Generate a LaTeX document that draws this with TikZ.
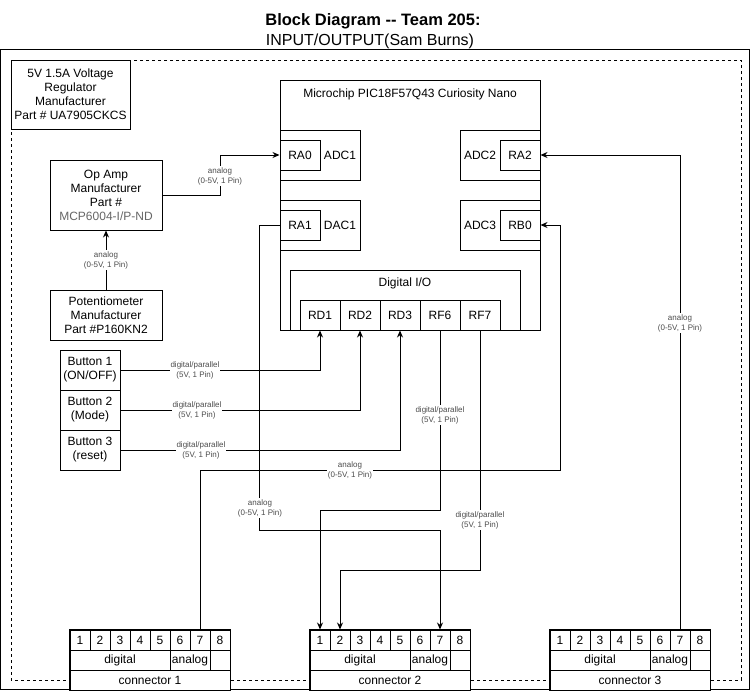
\documentclass[tikz,border=0pt]{standalone}
\usepackage{fontspec}
\setmainfont{Liberation Sans}
\usetikzlibrary{arrows.meta}
\newcommand{\makeconnector}[3]{%
  \foreach \i in {1,...,8} {
    \node[cell, minimum width=20, minimum height=20] (#1p\i) at ({#2+20*\i-10},640) {\i};
  }
  \node[cell, minimum width=100, minimum height=20] (#1dig) at ({#2+50},660) {digital};
  \node[cell, minimum width=40, minimum height=20] (#1ana) at ({#2+120},660) {analog};
  \node[cell, minimum width=160, minimum height=20] (#1lbl) at ({#2+80},680) {#3};
  \draw[line width=1pt] (#1p1.north west) rectangle (#1lbl.south east);
}
\begin{document}
\begin{tikzpicture}[x=1pt,y=-1pt,
  every node/.style={font=\fontsize{12}{14}\selectfont},
  box/.style={draw, line width=1pt, fill=white, inner sep=0pt, align=center},
  cell/.style={draw, line width=1pt, fill=white, inner sep=0pt},
  txt/.style={inner sep=0pt, align=center},
  arr/.style={line width=1pt, -{Stealth[length=7pt,width=6pt]}},
  wire/.style={line width=1pt},
  elbl/.style={fill=white, inner sep=1pt, align=center, text=black!70, font=\fontsize{8}{10}\selectfont}
]
\useasboundingbox (0,0) rectangle (752,691);
% title
\node[txt, font=\bfseries\fontsize{16.5}{19}\selectfont] (title) at (373,21) {Block Diagram {-}{-} Team 205:};
\node[txt, font=\fontsize{16}{19}\selectfont] (subtitle) at (370,41) {INPUT/OUTPUT(Sam Burns)};
% frames
\draw[line width=1pt] (0.5,49.5) rectangle (749.5,689.5);
\draw[line width=1pt, dash pattern=on 3pt off 3pt] (11,60) rectangle (741,680);
% regulator
\node[box, minimum width=119, minimum height=69] (reg) at (70.5,94.5)
  {5V 1.5A Voltage\\Regulator\\Manufacturer\\Part \# UA7905CKCS};
% microcontroller
\node[box, minimum width=260, minimum height=250] (mcu) at (410,205) {};
\node[txt] (mculbl) at (410,94) {Microchip PIC18F57Q43 Curiosity Nano};
\node[box, minimum width=80, minimum height=50] (adc1grp) at (320,155) {};
\node[box, minimum width=40, minimum height=30] (ra0) at (300,155) {RA0};
\node[txt] (adc1) at (340,155) {ADC1};
\node[box, minimum width=80, minimum height=50] (dac1grp) at (320,225) {};
\node[box, minimum width=40, minimum height=30] (ra1) at (300,225) {RA1};
\node[txt] (dac1) at (340,225) {DAC1};
\node[box, minimum width=80, minimum height=50] (adc2grp) at (500,155) {};
\node[box, minimum width=40, minimum height=30] (ra2) at (520,155) {RA2};
\node[txt] (adc2) at (480,155) {ADC2};
\node[box, minimum width=80, minimum height=50] (adc3grp) at (500,225) {};
\node[box, minimum width=40, minimum height=30] (rb0) at (520,225) {RB0};
\node[txt] (adc3) at (480,225) {ADC3};
\node[box, minimum width=230, minimum height=60] (dio) at (405,300) {};
\node[txt] (diolbl) at (405,283) {Digital I/O};
\node[box, minimum width=40, minimum height=30] (rd1) at (320,315) {RD1};
\node[box, minimum width=40, minimum height=30] (rd2) at (360,315) {RD2};
\node[box, minimum width=40, minimum height=30] (rd3) at (400,315) {RD3};
\node[box, minimum width=40, minimum height=30] (rf6) at (440,315) {RF6};
\node[box, minimum width=40, minimum height=30] (rf7) at (480,315) {RF7};
% left blocks
\node[box, minimum width=112, minimum height=70] (opamp) at (106,195)
  {Op Amp\\Manufacturer\\Part \#\\\textcolor{black!60}{MCP6004-I/P-ND}};
\node[box, minimum width=112, minimum height=50] (pot) at (106,315)
  {Potentiometer\\Manufacturer\\Part \#P160KN2};
\node[box, minimum width=60, minimum height=40] (b1) at (90,370) {Button 1\\(ON/OFF)};
\node[box, minimum width=60, minimum height=40] (b2) at (90,410) {Button 2\\(Mode)};
\node[box, minimum width=60, minimum height=40] (b3) at (90,450) {Button 3\\(reset)};
% connectors
\makeconnector{c1}{70}{connector 1}
\makeconnector{c2}{310}{connector 2}
\makeconnector{c3}{550}{connector 3}
% connections
\draw[arr] (opamp.east) -- ++(58,0) |- (ra0.west);
\node[elbl] (l1) at (220,176) {analog\\(0-5V, 1 Pin)};
\draw[arr] (pot.north) -- (opamp.south);
\node[elbl] (l2) at (106,260) {analog\\(0-5V, 1 Pin)};
\draw[arr] (b1.east) -| (rd1.south);
\node[elbl] (l3) at (195,370) {digital/parallel\\(5V, 1 Pin)};
\draw[arr] (b2.east) -| (rd2.south);
\node[elbl] (l4) at (197,410) {digital/parallel\\(5V, 1 Pin)};
\draw[arr] (b3.east) -| (rd3.south);
\node[elbl] (l5) at (201,450) {digital/parallel\\(5V, 1 Pin)};
\draw[arr] (c1p7.north) |- (560,470) |- (rb0.east);
\node[elbl] (l6) at (350,470) {analog\\(0-5V, 1 Pin)};
\draw[arr] (ra1.west) -- ++(-20,0) -- ++(0,305) -| (c2p7.north);
\node[elbl] (l7) at (260,508) {analog\\(0-5V, 1 Pin)};
\draw[arr] (rf6.south) -- ++(0,180) -| (c2p1.north);
\node[elbl] (l8) at (440,415) {digital/parallel\\(5V, 1 Pin)};
\draw[arr] (rf7.south) -- ++(0,240) -| (c2p2.north);
\node[elbl] (l9) at (480,520) {digital/parallel\\(5V, 1 Pin)};
\draw[arr] (c3p7.north) |- (ra2.east);
\node[elbl] (l10) at (680,323) {analog\\(0-5V, 1 Pin)};
\end{tikzpicture}
\end{document}
